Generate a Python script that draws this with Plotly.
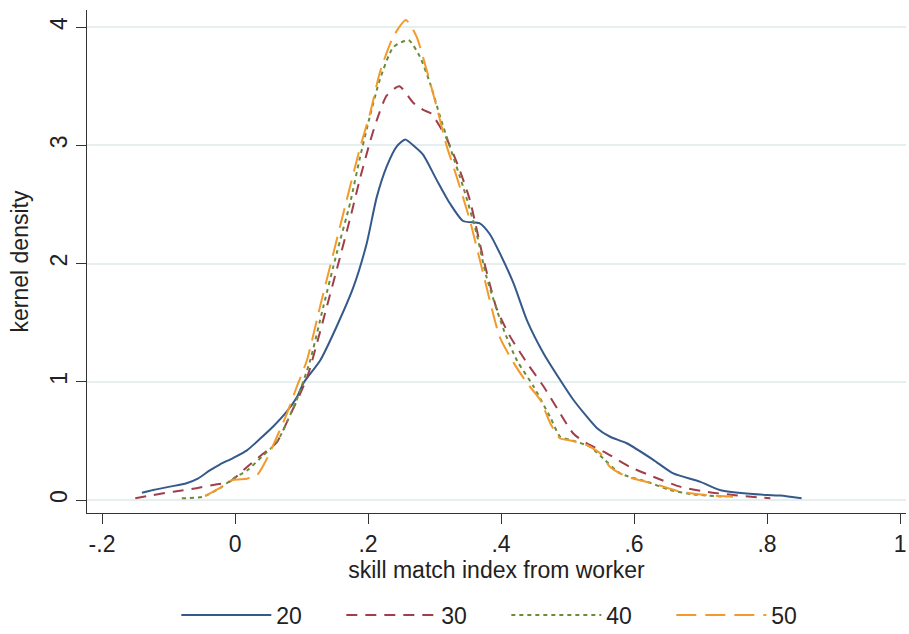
import plotly.graph_objects as go

# ---- data (kernel density estimates) ----
x20 = [-0.140, -0.123, -0.098, -0.073, -0.056, -0.038, -0.023, -0.003, 0.018, 0.038, 0.057, 0.078,
       0.093, 0.103, 0.128, 0.153, 0.178, 0.198, 0.213, 0.228, 0.243, 0.256, 0.270, 0.283, 0.303,
       0.323, 0.343, 0.368, 0.383, 0.398, 0.419, 0.439, 0.464, 0.489, 0.509, 0.544, 0.564, 0.589,
       0.629, 0.659, 0.699, 0.729, 0.779, 0.820, 0.852]
y20 = [0.062, 0.085, 0.113, 0.141, 0.180, 0.250, 0.300, 0.355, 0.420, 0.520, 0.620, 0.750,
       0.870, 0.990, 1.180, 1.470, 1.800, 2.170, 2.560, 2.820, 2.990, 3.050, 2.990, 2.920, 2.710,
       2.510, 2.360, 2.340, 2.250, 2.090, 1.830, 1.520, 1.240, 1.015, 0.846, 0.610, 0.535, 0.480,
       0.340, 0.225, 0.155, 0.085, 0.050, 0.037, 0.014]

x30 = [-0.150, -0.123, -0.093, -0.058, -0.033, -0.008, 0.018, 0.043, 0.063, 0.083, 0.108, 0.133,
       0.153, 0.173, 0.188, 0.203, 0.213, 0.228, 0.247, 0.268, 0.283, 0.295, 0.308, 0.318, 0.336,
       0.353, 0.373, 0.394, 0.414, 0.439, 0.464, 0.486, 0.509, 0.529, 0.559, 0.594, 0.629, 0.669,
       0.709, 0.749, 0.805]
y30 = [0.014, 0.042, 0.070, 0.100, 0.127, 0.155, 0.280, 0.395, 0.490, 0.720, 1.030, 1.530,
       1.950, 2.380, 2.720, 3.030, 3.210, 3.420, 3.500, 3.360, 3.300, 3.270, 3.160, 3.060, 2.820,
       2.540, 2.050, 1.610, 1.380, 1.160, 0.960, 0.760, 0.560, 0.480, 0.395, 0.280, 0.197, 0.113,
       0.070, 0.042, 0.014]

x40 = [-0.080, -0.048, -0.023, -0.003, 0.018, 0.043, 0.063, 0.083, 0.095, 0.113, 0.133, 0.153,
       0.173, 0.188, 0.203, 0.218, 0.238, 0.261, 0.278, 0.293, 0.308, 0.323, 0.343, 0.363, 0.378,
       0.404, 0.424, 0.449, 0.474, 0.489, 0.504, 0.534, 0.554, 0.579, 0.619, 0.654, 0.689, 0.739]
y40 = [0.014, 0.028, 0.100, 0.180, 0.250, 0.380, 0.490, 0.720, 0.880, 1.180, 1.640, 2.090,
       2.510, 2.900, 3.250, 3.560, 3.830, 3.890, 3.750, 3.530, 3.250, 2.990, 2.650, 2.260, 1.890,
       1.440, 1.180, 0.960, 0.700, 0.535, 0.510, 0.450, 0.350, 0.225, 0.155, 0.085, 0.048, 0.028]

x50 = [-0.045, -0.023, -0.003, 0.018, 0.033, 0.048, 0.063, 0.078, 0.093, 0.108, 0.128, 0.148,
       0.168, 0.188, 0.203, 0.218, 0.238, 0.257, 0.273, 0.288, 0.303, 0.318, 0.333, 0.353, 0.373,
       0.398, 0.419, 0.439, 0.459, 0.474, 0.489, 0.499, 0.529, 0.549, 0.564, 0.589, 0.629, 0.669,
       0.709, 0.749]
y50 = [0.034, 0.100, 0.170, 0.180, 0.210, 0.350, 0.535, 0.730, 0.960, 1.180, 1.640, 2.090,
       2.540, 2.980, 3.270, 3.620, 3.920, 4.060, 3.920, 3.640, 3.330, 3.000, 2.740, 2.370, 1.920,
       1.380, 1.160, 0.990, 0.846, 0.650, 0.520, 0.510, 0.465, 0.395, 0.280, 0.197, 0.140, 0.070,
       0.042, 0.028]

series_names = ["20", "30", "40", "50"]
x_ticks = [-0.2, 0, 0.2, 0.4, 0.6, 0.8, 1]
x_tick_labels = ["-.2", "0", ".2", ".4", ".6", ".8", "1"]
y_ticks = [0, 1, 2, 3, 4]

FONT = "Arial, 'Liberation Sans', sans-serif"
FS = 23
styles = [
    dict(color="#34598a", dash="solid"),
    dict(color="#a03e4c", dash="11px,8px"),
    dict(color="#6a8c3a", dash="4px,4px"),
    dict(color="#f39a2a", dash="20px,9px"),
]

fig = go.Figure()
for name, xs, ys, st in zip(series_names, [x20, x30, x40, x50], [y20, y30, y40, y50], styles):
    fig.add_trace(go.Scatter(x=xs, y=ys, mode="lines", name=name,
                             line=dict(color=st["color"], dash=st["dash"], width=2, shape="spline", smoothing=0.6)))

fig.update_layout(
    width=909, height=634,
    margin=dict(l=87, r=3, t=10, b=121),
    paper_bgcolor="white", plot_bgcolor="white",
    font=dict(family=FONT, size=FS, color="#222222"),
    showlegend=True,
    legend=dict(orientation="h", x=0.512, xanchor="center", yref="container", y=0.03, yanchor="middle",
                itemwidth=90, entrywidth=60, entrywidthmode="pixels", font=dict(size=FS),
                bgcolor="rgba(0,0,0,0)", traceorder="normal"),
)
fig.update_xaxes(
    range=[-0.2226, 1.009], tickmode="array", tickvals=x_ticks, ticktext=x_tick_labels,
    showgrid=False, zeroline=False, showline=True, linecolor="#333333", linewidth=1,
    ticks="outside", ticklen=10, tickcolor="#333333", tickfont=dict(size=FS),
    title=dict(text="skill match index from worker", font=dict(size=FS), standoff=2),
)
fig.update_yaxes(
    range=[-0.11, 4.145], tickmode="array", tickvals=y_ticks,
    showgrid=True, gridcolor="#e6efef", gridwidth=2, zeroline=False,
    showline=True, linecolor="#333333", linewidth=1,
    ticks="outside", ticklen=10, tickcolor="#333333", tickangle=-90, tickfont=dict(size=FS),
    title=dict(text="kernel density", font=dict(size=FS), standoff=10),
)

fig.write_html("out.html")
